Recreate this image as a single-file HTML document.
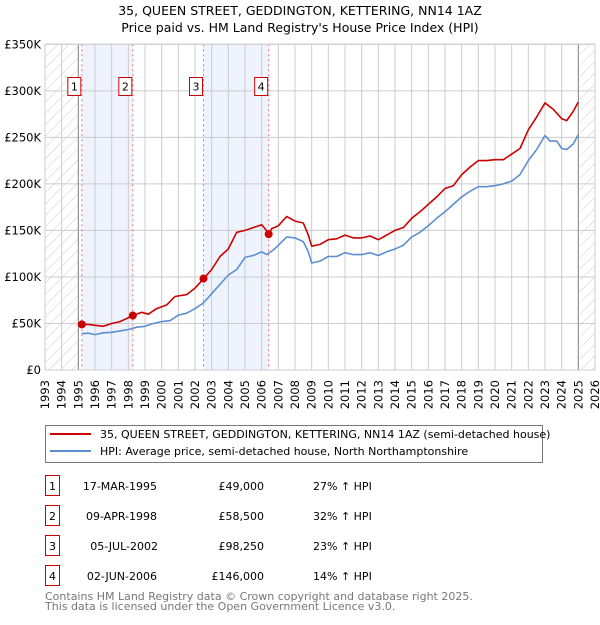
<!DOCTYPE html>
<html><head><meta charset="utf-8"><style>
body{margin:0;background:#fff;font-family:"Liberation Sans","DejaVu Sans",sans-serif;}
</style></head><body>
<svg width="600" height="620" viewBox="0 0 600 620" xmlns="http://www.w3.org/2000/svg" font-family="DejaVu Sans, Liberation Sans, sans-serif">
<defs><pattern id="hatch" width="8" height="8" patternUnits="userSpaceOnUse" patternTransform="rotate(45)"><line x1="0" y1="0" x2="0" y2="8" stroke="#ccc" stroke-width="1"/></pattern></defs>
<text x="300" y="15" text-anchor="middle" font-size="12.5" fill="#000">35, QUEEN STREET, GEDDINGTON, KETTERING, NN14 1AZ</text>
<text x="300" y="32" text-anchor="middle" font-size="12.5" fill="#000">Price paid vs. HM Land Registry's House Price Index (HPI)</text>
<g id="plot"></g>
<g>
<rect x="45.5" y="425.5" width="497" height="37" fill="#fff" stroke="#777"/>
<line x1="50" y1="434" x2="91" y2="434" stroke="#cc0000" stroke-width="2"/>
<text x="100" y="438" font-size="11">35, QUEEN STREET, GEDDINGTON, KETTERING, NN14 1AZ (semi-detached house)</text>
<line x1="50" y1="451" x2="91" y2="451" stroke="#5b8fd0" stroke-width="2"/>
<text x="100" y="455" font-size="11">HPI: Average price, semi-detached house, North Northamptonshire</text>
</g>
<g font-size="11">
<g><rect x="45.5" y="475.5" width="14" height="20" fill="#fff" stroke="#cc0000"/><text x="52.5" y="490" text-anchor="middle">1</text><text x="157" y="490" text-anchor="end">17-MAR-1995</text><text x="264" y="490" text-anchor="end">£49,000</text><text x="313" y="490">27% ↑ HPI</text></g>
<g><rect x="45.5" y="505.5" width="14" height="20" fill="#fff" stroke="#cc0000"/><text x="52.5" y="520" text-anchor="middle">2</text><text x="157" y="520" text-anchor="end">09-APR-1998</text><text x="264" y="520" text-anchor="end">£58,500</text><text x="313" y="520">32% ↑ HPI</text></g>
<g><rect x="45.5" y="535.5" width="14" height="20" fill="#fff" stroke="#cc0000"/><text x="52.5" y="550" text-anchor="middle">3</text><text x="158" y="550" text-anchor="end">05-JUL-2002</text><text x="264" y="550" text-anchor="end">£98,250</text><text x="313" y="550">23% ↑ HPI</text></g>
<g><rect x="45.5" y="565.5" width="14" height="20" fill="#fff" stroke="#cc0000"/><text x="52.5" y="580" text-anchor="middle">4</text><text x="157" y="580" text-anchor="end">02-JUN-2006</text><text x="264" y="580" text-anchor="end">£146,000</text><text x="313" y="580">14% ↑ HPI</text></g>
</g>
<text x="45" y="600" font-size="11" fill="#777">Contains HM Land Registry data © Crown copyright and database right 2025.</text>
<text x="45" y="610" font-size="11" fill="#777">This data is licensed under the Open Government Licence v3.0.</text>
</svg>
<script>
const hpiYears=[1995.2,1995.6,1996,1996.5,1997,1997.5,1998,1998.5,1999,1999.5,2000,2000.5,2001,2001.5,2002,2002.5,2003,2003.5,2004,2004.5,2005,2005.5,2006,2006.3,2006.7,2007,2007.5,2008,2008.5,2008.8,2009,2009.5,2010,2010.5,2011,2011.5,2012,2012.5,2013,2013.5,2014,2014.5,2015,2015.5,2016,2016.5,2017,2017.5,2018,2018.5,2019,2019.5,2020,2020.5,2021,2021.5,2022,2022.5,2023,2023.3,2023.7,2024,2024.3,2024.7,2025];
const hpiValues=[39,39.5,38,40,40.5,42,43.5,46,47,50,52,53,59,61,66,72,82,92,102,108,121,123,127,124,129,134,143,142,138,127,115,117,122,122,126,124,124,126,123,127,130,134,143,148,155,163,170,178,186,192,197,197,198,200,203,210,225,237,252,246,246,238,237,243,253];
const priceYears=[1995.2,1995.6,1996,1996.5,1997,1997.5,1998.27,1998.8,1999.2,1999.7,2000.3,2000.8,2001.5,2002,2002.51,2003,2003.5,2004,2004.5,2005,2005.5,2006,2006.2,2006.42,2006.6,2007,2007.5,2008,2008.5,2008.8,2009,2009.5,2010,2010.5,2011,2011.5,2012,2012.5,2013,2013.5,2014,2014.5,2015,2015.5,2016,2016.5,2017,2017.5,2018,2018.5,2019,2019.5,2020,2020.5,2021,2021.5,2022,2022.5,2023,2023.5,2024,2024.3,2024.7,2025];
const priceValues=[49,49,48,47,50,52,58.5,62,60,66,70,79,81,88,98,108,122,130,148,150,153,156,152,146,152,155,165,160,158,145,133,135,140,141,145,142,142,144,140,145,150,153,163,170,178,186,195,198,210,218,225,225,226,226,232,238,258,272,287,280,270,268,278,288];
const saleYears=[1995.21,1998.27,2002.51,2006.42];
const saleValues=[49,58.5,98.25,146];
const saleLabels=["1","2","3","4"];
const yTicks=[0,50,100,150,200,250,300,350];
const yTickLabels=["£0","£50K","£100K","£150K","£200K","£250K","£300K","£350K"];
const xTicks=[1993,1994,1995,1996,1997,1998,1999,2000,2001,2002,2003,2004,2005,2006,2007,2008,2009,2010,2011,2012,2013,2014,2015,2016,2017,2018,2019,2020,2021,2022,2023,2024,2025,2026];

const X0=45,X1=595,Y0=370,Y1=44.3;
const xs=y=>X0+(y-1993)/(2026-1993)*(X1-X0);
const ys=v=>Y0-v/350*(Y0-Y1);
const NS="http://www.w3.org/2000/svg";
const g=document.getElementById('plot');
function mk(t,a,p){const e=document.createElementNS(NS,t);for(const k in a)e.setAttribute(k,a[k]);(p||g).appendChild(e);return e;}
for(let i=0;i<saleYears.length;i+=2){
 const r=mk('rect',{x:xs(saleYears[i]),y:Y1,width:xs(saleYears[i+1])-xs(saleYears[i]),height:Y0-Y1,fill:'#eef3fd'});
 
 
}
const h1=mk('rect',{x:X0,y:Y1,width:xs(1995)-X0,height:Y0-Y1,fill:'url(#hatch)'});


const h2=mk('rect',{x:xs(2025.1),y:Y1,width:X1-xs(2025.1),height:Y0-Y1,fill:'url(#hatch)'});


yTicks.forEach((v,i)=>{
 const l=mk('line',{x1:X0,x2:X1,y1:ys(v),y2:ys(v),stroke:'#ccc','stroke-width':1});
 
 
 const t=mk('text',{x:X0-4,y:ys(v)+4,'text-anchor':'end','font-size':11.5});
 t.textContent=yTickLabels[i];
 
 
});
xTicks.forEach(y=>{
 const l=mk('line',{x1:xs(y),x2:xs(y),y1:Y1,y2:Y0,stroke:'#ccc','stroke-width':1});
 
 
 const t=mk('text',{x:0,y:0,'text-anchor':'end','font-size':11.5,transform:`translate(${xs(y)+4},${Y0+10}) rotate(-90)`});
 t.textContent=y;
 
 
});
[1995,2025].forEach(y=>{
 const l=mk('line',{x1:xs(y),x2:xs(y),y1:Y1,y2:Y0,stroke:'#888','stroke-width':1});
 
 
});
saleYears.forEach(y=>{
 const l=mk('line',{x1:xs(y),x2:xs(y),y1:Y1,y2:Y0,stroke:'#f07070','stroke-width':1,'stroke-dasharray':'2,3'});
 
 
});
function path(xa,va,color,name){
 const d=xa.map((x,i)=>(i?'L':'M')+xs(x).toFixed(1)+','+ys(va[i]).toFixed(1)).join('');
 const p=mk('path',{d:d,fill:'none',stroke:color,'stroke-width':1.6,'stroke-linejoin':'round'});
 
 
}
path(hpiYears,hpiValues,'#5b8fd0','hpi-line');
path(priceYears,priceValues,'#cc0000','price-paid-line');
saleYears.forEach((y,i)=>{
 const c=mk('circle',{cx:xs(y),cy:ys(saleValues[i]),r:4,fill:'#cc0000'});
 
 
 const bx=mk('rect',{x:xs(y)-14,y:77.5,width:13,height:18,fill:'#fff',stroke:'#cc0000'});
 
 
 const t=mk('text',{x:xs(y)-7.5,y:90.5,'text-anchor':'middle','font-size':11});
 t.textContent=saleLabels[i];
 
 
});
const fr=mk('rect',{x:X0,y:Y1,width:X1-X0,height:Y0-Y1,fill:'none',stroke:'#ccc'});


</script>
</body></html>
